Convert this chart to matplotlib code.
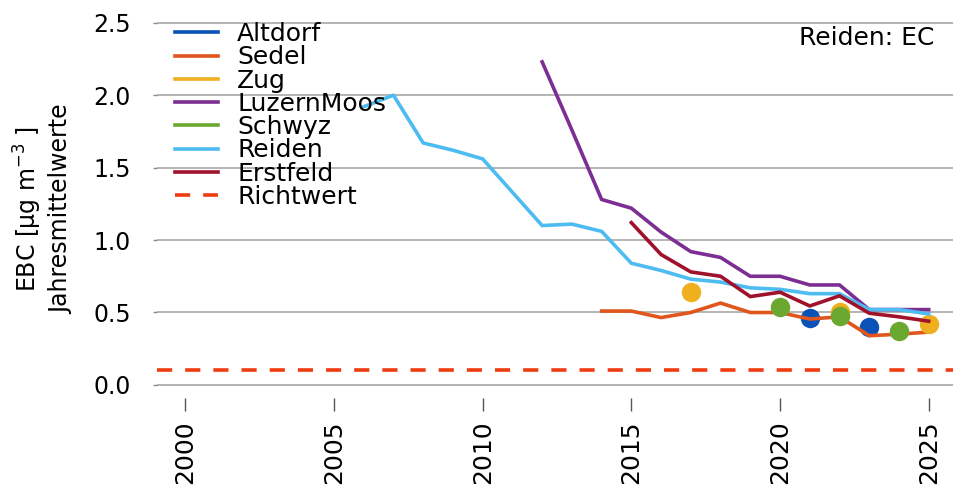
import matplotlib.pyplot as plt
from matplotlib.lines import Line2D

plt.rcParams['font.family'] = ['DejaVu Sans']

# Jahresmittelwerte EBC [µg m-3]
reiden_jahre = [2006, 2007, 2008, 2009, 2010, 2011, 2012, 2013, 2014, 2015, 2016, 2017,
                2018, 2019, 2020, 2021, 2022, 2023, 2024, 2025]
reiden_werte = [1.92, 2.00, 1.67, 1.62, 1.56, 1.33, 1.10, 1.11, 1.06, 0.84, 0.79, 0.73,
                0.71, 0.67, 0.66, 0.63, 0.63, 0.52, 0.52, 0.49]

luzern_jahre = [2012, 2013, 2014, 2015, 2016, 2017, 2018, 2019, 2020, 2021, 2022, 2023, 2024, 2025]
luzern_werte = [2.23, 1.76, 1.28, 1.22, 1.055, 0.92, 0.88, 0.75, 0.75, 0.69, 0.69, 0.52, 0.52, 0.52]

erstfeld_jahre = [2015, 2016, 2017, 2018, 2019, 2020, 2021, 2022, 2023, 2024, 2025]
erstfeld_werte = [1.12, 0.90, 0.78, 0.75, 0.61, 0.64, 0.545, 0.615, 0.495, 0.47, 0.44]

sedel_jahre = [2014, 2015, 2016, 2017, 2018, 2019, 2020, 2021, 2022, 2023, 2024, 2025]
sedel_werte = [0.51, 0.51, 0.465, 0.50, 0.565, 0.50, 0.50, 0.455, 0.47, 0.34, 0.35, 0.365]

zug_jahre = [2017, 2022, 2025]
zug_werte = [0.64, 0.50, 0.42]

altdorf_jahre = [2021, 2023]
altdorf_werte = [0.46, 0.40]

schwyz_jahre = [2020, 2022, 2024]
schwyz_werte = [0.535, 0.475, 0.37]

richtwert = 0.1

farben = {
    'Altdorf': '#0a52b8',
    'Sedel': '#e0561c',
    'Zug': '#efb020',
    'LuzernMoos': '#7c2e93',
    'Schwyz': '#6aa830',
    'Reiden': '#4dbcf0',
    'Erstfeld': '#a0122c',
    'Richtwert': '#f03c10',
}

fig = plt.figure(figsize=(9.54, 4.87), dpi=100)
ax = fig.add_axes([0.1646, 0.1828, 0.8354, 0.7765])

lw = 2.6
ms = 14
ax.plot(altdorf_jahre, altdorf_werte, 'o', color=farben['Altdorf'], ms=ms, mec='none', zorder=3)
ax.plot(sedel_jahre, sedel_werte, color=farben['Sedel'], lw=lw, zorder=3)
ax.plot(zug_jahre, zug_werte, 'o', color=farben['Zug'], ms=ms, mec='none', zorder=3)
ax.plot(luzern_jahre, luzern_werte, color=farben['LuzernMoos'], lw=lw, zorder=3)
ax.plot(schwyz_jahre, schwyz_werte, 'o', color=farben['Schwyz'], ms=ms, mec='none', zorder=3)
ax.plot(reiden_jahre, reiden_werte, color=farben['Reiden'], lw=lw, zorder=3)
ax.plot(erstfeld_jahre, erstfeld_werte, color=farben['Erstfeld'], lw=lw, zorder=3)
ax.axhline(richtwert, color=farben['Richtwert'], lw=lw, ls=(0, (4.2, 3.6)), zorder=3)

ax.set_xlim(1999.05, 2025.85)
ax.set_ylim(-0.09, 2.52)
ax.set_xticks([2000, 2005, 2010, 2015, 2020, 2025])
ax.set_yticks([0.0, 0.5, 1.0, 1.5, 2.0, 2.5])
ax.set_yticklabels(['0.0', '0.5', '1.0', '1.5', '2.0', '2.5'])
ax.grid(axis='y', color='#b4b4b4', lw=1.4, zorder=1)
for s in ax.spines.values():
    s.set_visible(False)

ax.tick_params(axis='x', length=9, width=1, color='#555555', labelsize=18,
               labelrotation=90, pad=7)
ax.tick_params(axis='y', length=3, width=1, color='#888888', labelsize=17, pad=16)

ax.set_ylabel('EBC [µg m$^{-3}$ ]\nJahresmittelwerte', fontsize=17, labelpad=14,
              linespacing=1.3)

ax.text(0.976, 0.952, 'Reiden: EC', transform=ax.transAxes, ha='right', va='center',
        fontsize=18)

namen = ['Altdorf', 'Sedel', 'Zug', 'LuzernMoos', 'Schwyz', 'Reiden', 'Erstfeld', 'Richtwert']
handles = [Line2D([], [], color=farben[n], lw=lw) for n in namen[:-1]]
handles.append(Line2D([], [], color=farben['Richtwert'], lw=lw, ls=(0, (4.2, 3.6))))
ax.legend(handles, namen, loc='upper left', bbox_to_anchor=(0.0, 1.04), frameon=False,
          prop={'size': 18}, handlelength=1.75, handletextpad=0.75, labelspacing=-0.03,
          borderaxespad=0.3)

fig.savefig('out.png', dpi=100)
